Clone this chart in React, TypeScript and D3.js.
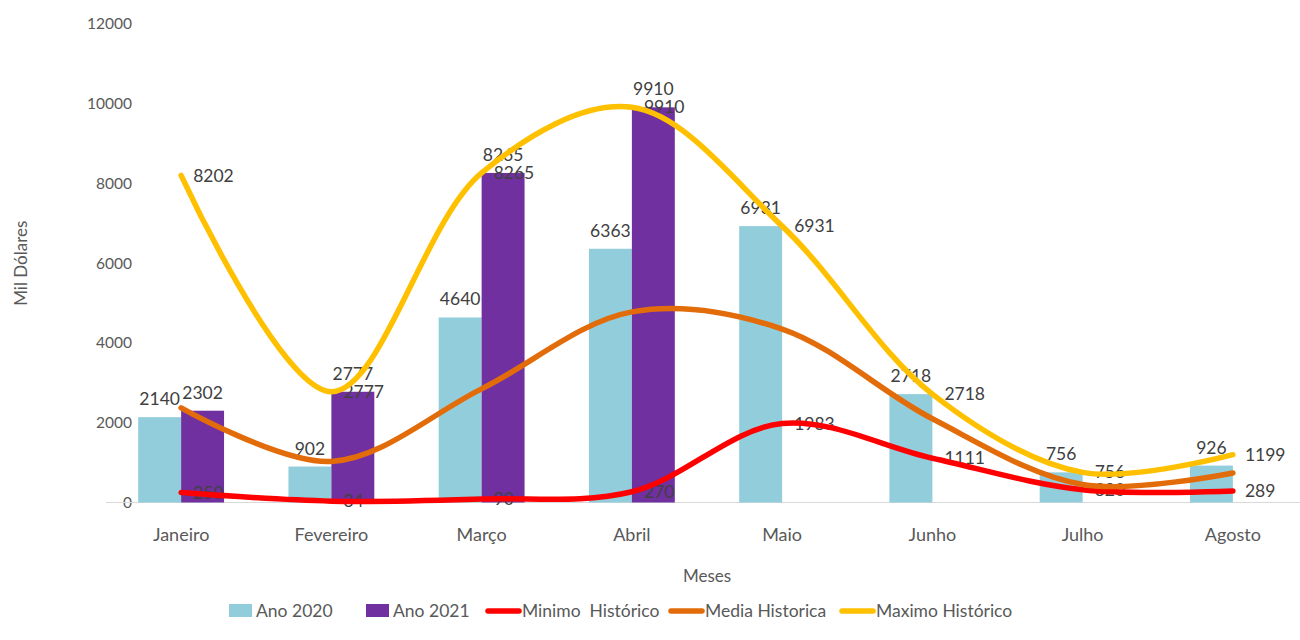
import React from "react";
import * as d3 from "d3";

const months = ["Janeiro", "Fevereiro", "Março", "Abril", "Maio", "Junho", "Julho", "Agosto"];
const ano2020 = [2140, 902, 4640, 6363, 6931, 2718, 756, 926];
const ano2021: (number | null)[] = [2302, 2777, 8265, 9910, null, null, null, null];
const minimo = [250, 34, 90, 270, 1983, 1111, 320, 289];
const media = [2375, 1030, 2850, 4780, 4350, 2100, 450, 740];
const maximo = [8202, 2777, 8265, 9910, 6931, 2718, 756, 1199];
const yTicks = [0, 2000, 4000, 6000, 8000, 10000, 12000];

const barSeries = [
  { key: "Ano 2020", values: ano2020 as (number | null)[], color: "#92CDDC" },
  { key: "Ano 2021", values: ano2021, color: "#7030A0" },
];
const lineSeries = [
  { key: "Minimo  Histórico", values: minimo, color: "#FF0000", labels: true },
  { key: "Media Historica", values: media, color: "#E36C0A", labels: false },
  { key: "Maximo Histórico", values: maximo, color: "#FFC000", labels: true },
];

const FONT = "Lato, 'Open Sans', sans-serif";
const TXT = "#595959";
const LBL = "#404040";

export default function App() {
  const W = 1300, H = 640;
  const gap = 1.5 / 3.5;
  const x0 = d3.scaleBand<string>().domain(months).range([106, 1308]).paddingInner(gap).paddingOuter(gap / 2);
  const x1 = d3.scaleBand<string>().domain(barSeries.map(s => s.key)).range([0, x0.bandwidth()]);
  const y = d3.scaleLinear().domain([0, 12000]).range([502.5, 24]);
  const cx = (m: string) => (x0(m) as number) + x0.bandwidth() / 2;

  const line = d3.line<number>()
    .x((_, i) => cx(months[i]))
    .y(v => y(v))
    .curve(d3.curveCatmullRom.alpha(0.5));

  const legendItems = [
    { key: "Ano 2020", color: "#92CDDC", type: "rect", x: 229 },
    { key: "Ano 2021", color: "#7030A0", type: "rect", x: 366 },
    { key: "Minimo  Histórico", color: "#FF0000", type: "line", x: 488 },
    { key: "Media Historica", color: "#E36C0A", type: "line", x: 671 },
    { key: "Maximo Histórico", color: "#FFC000", type: "line", x: 842 },
  ];

  return (
    <svg width={W} height={H} style={{ position: "absolute", left: 0, top: 0, background: "#fff" }} fontFamily={FONT}>
      {/* y tick labels */}
      {yTicks.map(t => (
        <text key={t} x={132} y={y(t)} dy="0.35em" textAnchor="end" fontSize={15.5} fill={TXT}>{t}</text>
      ))}
      <text transform={`translate(27,${(y(0) + y(12000)) / 2}) rotate(-90)`} textAnchor="middle" fontSize={17} fill={TXT}>Mil Dólares</text>

      {/* axis line */}
      <line x1={106} x2={1308} y1={y(0)} y2={y(0)} stroke="#D9D9D9" strokeWidth={1} />

      {/* bars */}
      {barSeries.map(s => (
        <g key={s.key}>
          {s.values.map((v, i) => v == null ? null : (
            <rect key={i} x={(x0(months[i]) as number) + (x1(s.key) as number)} y={y(v)}
              width={x1.bandwidth()} height={y(0) - y(v)} fill={s.color} />
          ))}
        </g>
      ))}

      {/* bar labels */}
      {barSeries.map(s => (
        <g key={s.key + "l"}>
          {s.values.map((v, i) => v == null ? null : (
            <text key={i} x={(x0(months[i]) as number) + (x1(s.key) as number) + x1.bandwidth() / 2}
              y={y(v) - 12} textAnchor="middle" fontSize={17.5} fill={LBL}>{v}</text>
          ))}
        </g>
      ))}

      {/* line labels */}
      {lineSeries.filter(s => s.labels).map(s => (
        <g key={s.key + "l"}>
          {s.values.map((v, i) => (
            <text key={i} x={cx(months[i]) + 12} y={y(v)} dy="0.35em" fontSize={17.5} fill={LBL}>{v}</text>
          ))}
        </g>
      ))}

      {/* lines */}
      {lineSeries.map(s => (
        <path key={s.key} d={line(s.values) || ""} fill="none" stroke={s.color} strokeWidth={5.5} strokeLinecap="round" />
      ))}

      {/* x labels */}
      {months.map(m => (
        <text key={m} x={cx(m)} y={541} textAnchor="middle" fontSize={18} fill={TXT}>{m}</text>
      ))}
      <text x={707} y={582} textAnchor="middle" fontSize={17} fill={TXT}>Meses</text>

      {/* legend */}
      {legendItems.map(it => (
        <g key={it.key}>
          {it.type === "rect"
            ? <rect x={it.x} y={604} width={23} height={13} fill={it.color} />
            : <line x1={it.x} x2={it.x + 31} y1={611} y2={611} stroke={it.color} strokeWidth={5.5} strokeLinecap="round" />}
          <text x={it.x + (it.type === "rect" ? 27 : 34)} y={611} dy="0.35em" fontSize={17.5} fill={TXT} style={{ whiteSpace: "pre" }}>{it.key}</text>
        </g>
      ))}
    </svg>
  );
}
